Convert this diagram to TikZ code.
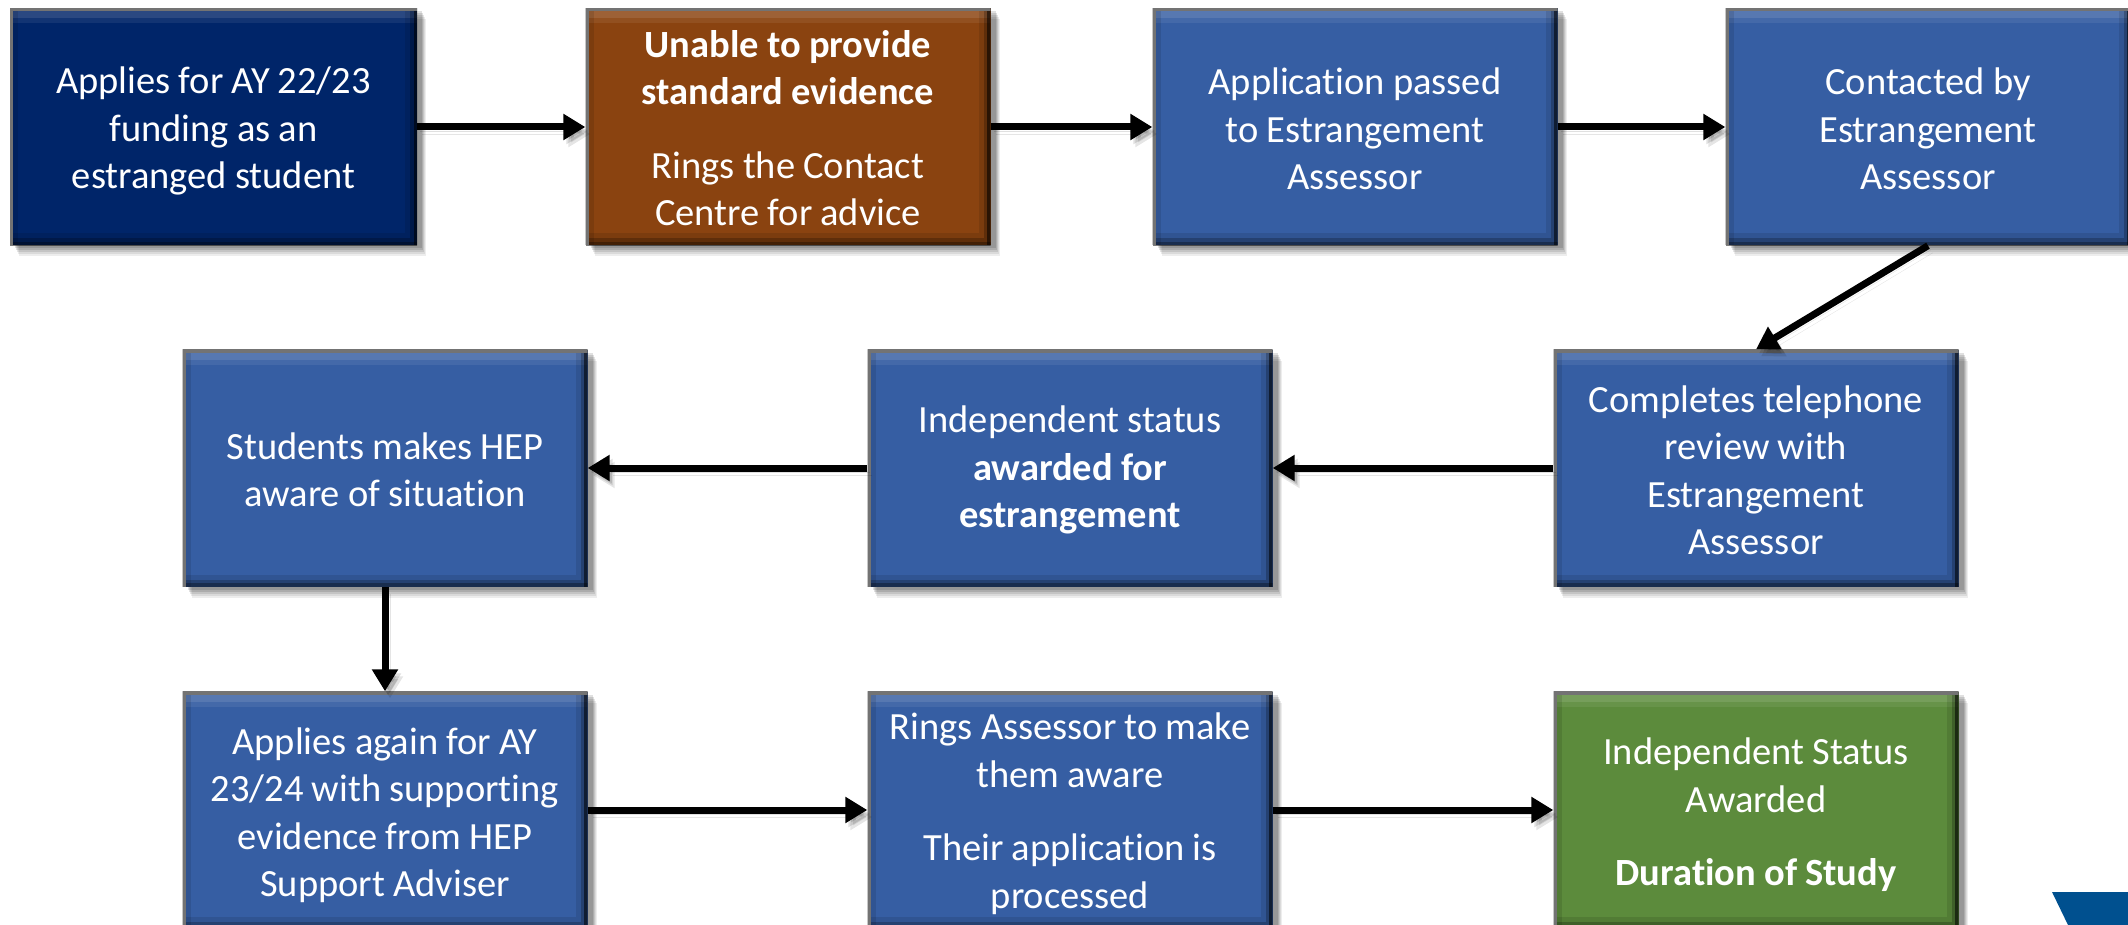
\documentclass[tikz,border=0pt]{standalone}
\usepackage{fontspec}
\setmainfont{Carlito}[Ligatures=NoCommon]
\usetikzlibrary{arrows.meta,calc}
\definecolor{navyb}{HTML}{002569}
\definecolor{brownb}{HTML}{8A4310}
\definecolor{blueb}{HTML}{365EA3}
\definecolor{greenb}{HTML}{5C8B3C}
\definecolor{logob}{HTML}{00508F}
\tikzset{
  softshadow/.style={
    preaction={fill=black,fill opacity=.07,transform canvas={shift={(9pt,-11pt)}}},
    preaction={fill=black,fill opacity=.08,transform canvas={shift={(8pt,-9pt)}}},
    preaction={fill=black,fill opacity=.10,transform canvas={shift={(7pt,-7pt)}}},
    preaction={fill=black,fill opacity=.12,transform canvas={shift={(6pt,-5pt)}}},
    preaction={fill=black,fill opacity=.12,transform canvas={shift={(5pt,-3pt)}}}},
  textdown/.style={execute at begin node={\spaceskip=.21em\relax\rule{0pt}{\dimexpr 27pt+#1\relax}}},
  bevelbox/.style={
    softshadow,
    rectangle, inner sep=0pt, text=white, align=center, text width=400pt,
    minimum width=405pt, minimum height=237pt,
    font=\fontsize{38.5}{47.5}\selectfont,
    path picture={
      \coordinate (nw) at (path picture bounding box.north west);
      \coordinate (ne) at (path picture bounding box.north east);
      \coordinate (sw) at (path picture bounding box.south west);
      \coordinate (se) at (path picture bounding box.south east);
      \draw[white,draw opacity=.07,line width=30pt] (nw) -- (ne);
      \draw[white,draw opacity=.10,line width=20pt] (nw) -- (ne);
      \draw[black,draw opacity=.10,line width=16pt] (sw) -- (nw);
      \draw[black,draw opacity=.10,line width=24pt] (ne) -- (se) -- (sw);
      \draw[black,draw opacity=.22,line width=14pt] (ne) -- (se) -- (sw);
      \draw[black,draw opacity=.55,line width=7pt] (ne) -- (se);
      \draw[black,draw opacity=.30,line width=7pt] (se) -- (sw);
      \draw[black!55,line width=6pt] (sw) -- (nw) -- (ne);
    }},
  flowarrow/.style={
    line width=7pt, black,
    -{Triangle[length=22pt,width=25pt]},
    preaction={draw=black,draw opacity=.12,fill opacity=.12,transform canvas={shift={(3pt,-4pt)}}},
    preaction={draw=black,draw opacity=.10,fill opacity=.10,transform canvas={shift={(5pt,-7pt)}}}}
}
\begin{document}
\begin{tikzpicture}[x=1pt,y=-1pt]
\useasboundingbox (0,0) rectangle (2128,925);
\clip (0,0) rectangle (2128,925);
\fill[logob] (2052,892) -- (2128,892) -- (2128,925) -- (2068,925) -- cycle;

\node[bevelbox,fill=navyb,minimum width=407pt,textdown=8pt] (a) at (213.5,127) {Applies for AY 22/23\\funding as an\\estranged student};
\node[bevelbox,fill=brownb,textdown=2pt] (b) at (788,127) {\textbf{Unable to provide}\\\textbf{standard evidence}\\[26pt]Rings the Contact\\Centre for advice};
\node[bevelbox,fill=blueb,textdown=4pt] (c) at (1355,127) {Application passed\\to Estrangement\\Assessor};
\node[bevelbox,fill=blueb,textdown=4pt] (d) at (1928,127) {Contacted by\\Estrangement\\Assessor};

\node[bevelbox,fill=blueb,textdown=4pt] (e) at (1756,468) {Completes telephone\\review with\\Estrangement\\Assessor};
\node[bevelbox,fill=blueb,textdown=4pt] (f) at (1070,468) {Independent status\\\textbf{awarded for}\\\textbf{estrangement}};
\node[bevelbox,fill=blueb,textdown=3pt] (g) at (385,468) {Students makes HEP\\aware of situation};

\node[bevelbox,fill=blueb,textdown=10pt] (h) at (385,810) {Applies again for AY\\23/24 with supporting\\evidence from HEP\\Support Adviser};
\node[bevelbox,fill=blueb,textdown=7pt] (i) at (1070,810) {Rings Assessor to make\\them aware\\[26pt]Their application is\\processed};
\node[bevelbox,fill=greenb,textdown=10pt] (j) at (1756,810) {Independent Status\\Awarded\\[26pt]\textbf{Duration of Study}};

\draw[flowarrow] (a.east) -- (b.west);
\draw[flowarrow] (b.east) -- (c.west);
\draw[flowarrow] (c.east) -- (d.west);
\draw[flowarrow] (d.south) -- (e.north);
\draw[flowarrow] (e.west) -- (f.east);
\draw[flowarrow] (f.west) -- (g.east);
\draw[flowarrow] (g.south) -- (h.north);
\draw[flowarrow] (h.east) -- (i.west);
\draw[flowarrow] (i.east) -- (j.west);
\end{tikzpicture}
\end{document}
